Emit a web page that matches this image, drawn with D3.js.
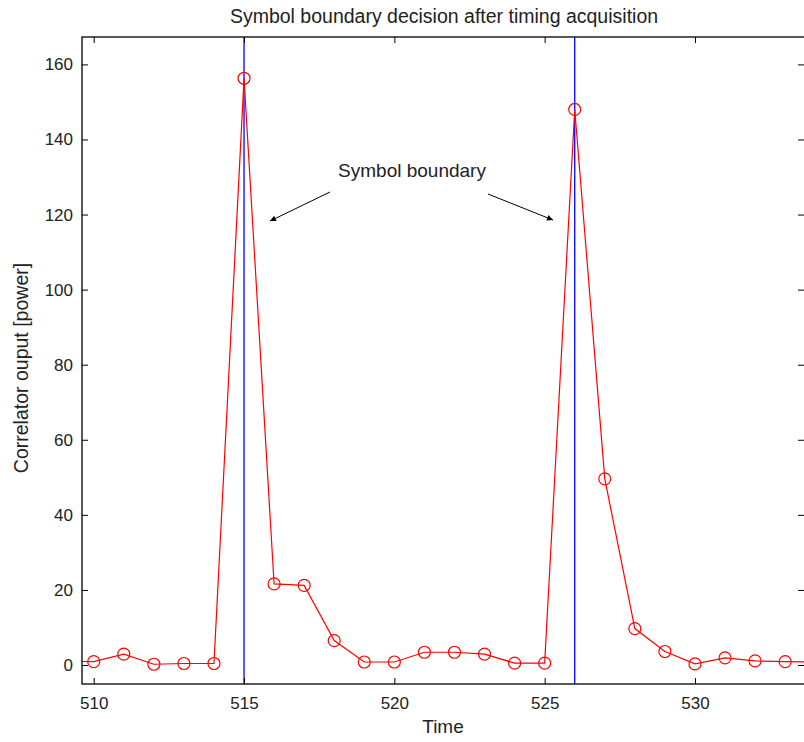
<!DOCTYPE html>
<html><head><meta charset="utf-8">
<script src="https://cdn.jsdelivr.net/npm/d3@7"></script>
<style>body{margin:0;background:#fff;} svg{display:block;}</style>
</head><body>
<svg id="c" width="804" height="742"></svg>
<script>
const times = [509,510,511,512,513,514,515,516,517,518,519,520,521,522,523,524,525,526,527,528,529,530,531,532,533,534];
const power = [1.0,0.9,2.9,0.2,0.4,0.4,156.3,21.6,21.2,6.5,0.8,0.8,3.4,3.4,2.9,0.5,0.5,148.0,49.6,9.7,3.6,0.3,1.9,1.1,0.9,0.8];
const boundaries = [515,526];
const xTicks = [510,515,520,525,530];
const yTicks = [0,20,40,60,80,100,120,140,160];
const titleText = "Symbol boundary decision after timing acquisition";
const xLabel = "Time";
const yLabel = "Correlator ouput [power]";
const annText = "Symbol boundary";

const svg = d3.select("#c");
const L=82,R=805,T=37,B=684;
const x = d3.scaleLinear().domain([509.61,533.66]).range([L,R]);
const y = d3.scaleLinear().domain([-5.06,167.3]).range([B,T]);
const font = "'Liberation Sans', Arial, sans-serif";

svg.append("defs").append("clipPath").attr("id","clip")
  .append("rect").attr("x",L).attr("y",T).attr("width",R-L).attr("height",B-T);
const mk = svg.append("defs").append("marker").attr("id","ah")
  .attr("viewBox","0 0 10 10").attr("refX",10).attr("refY",5)
  .attr("markerWidth",9).attr("markerHeight",6).attr("orient","auto")
  .attr("markerUnits","userSpaceOnUse");
mk.append("path").attr("d","M0,0L10,5L0,10z").attr("fill","#000");

const g = svg.append("g").attr("clip-path","url(#clip)");
g.selectAll("line.b").data(boundaries).enter().append("line")
  .attr("x1",d=>x(d)).attr("x2",d=>x(d)).attr("y1",T).attr("y2",B)
  .attr("stroke","#0000ff").attr("stroke-width",1.3);
const line = d3.line().x((d,i)=>x(times[i])).y(d=>y(d));
g.append("path").datum(power).attr("d",line).attr("fill","none")
  .attr("stroke","#ff0000").attr("stroke-width",1.2);
g.selectAll("circle").data(power).enter().append("circle")
  .attr("cx",(d,i)=>x(times[i])).attr("cy",d=>y(d)).attr("r",6)
  .attr("fill","none").attr("stroke","#ff0000").attr("stroke-width",1.2);

const axc = "#000";
const xb = d3.axisBottom(x).tickValues(xTicks).tickSize(-6).tickPadding(13).tickFormat(d3.format("d"));
const xt = d3.axisTop(x).tickValues(xTicks).tickSize(-6).tickFormat("");
const yl = d3.axisLeft(y).tickValues(yTicks).tickSize(-6).tickPadding(9).tickFormat(d3.format("d"));
const yr = d3.axisRight(y).tickValues(yTicks).tickSize(-6).tickFormat("");
function style(sel){ sel.select(".domain").remove(); sel.selectAll("line").attr("stroke",axc);
  sel.selectAll("text").attr("font-family",font).attr("font-size",17).attr("fill","#222"); }
svg.append("g").attr("transform",`translate(0,${B})`).call(xb).call(style);
svg.append("g").attr("transform",`translate(0,${T})`).call(xt).call(style);
svg.append("g").attr("transform",`translate(${L},0)`).call(yl).call(style);
svg.append("g").attr("transform",`translate(${R-1},0)`).call(yr).call(style);
svg.append("rect").attr("x",L).attr("y",T).attr("width",R-L).attr("height",B-T)
  .attr("fill","none").attr("stroke",axc).attr("stroke-width",1.3);

svg.append("text").attr("x",444).attr("y",23).attr("text-anchor","middle")
  .attr("font-family",font).attr("font-size",19.5).attr("fill","#222").text(titleText);
svg.append("text").attr("x",443).attr("y",733).attr("text-anchor","middle")
  .attr("font-family",font).attr("font-size",19).attr("fill","#222").text(xLabel);
svg.append("text").attr("transform","translate(28,368) rotate(-90)").attr("text-anchor","middle")
  .attr("font-family",font).attr("font-size",19.5).attr("fill","#222").text(yLabel);

svg.append("text").attr("x",412).attr("y",177).attr("text-anchor","middle")
  .attr("font-family",font).attr("font-size",19).attr("fill","#222").text(annText);
svg.append("line").attr("x1",330).attr("y1",192).attr("x2",270).attr("y2",221)
  .attr("stroke","#000").attr("stroke-width",1).attr("marker-end","url(#ah)");
svg.append("line").attr("x1",488).attr("y1",194).attr("x2",553).attr("y2",220)
  .attr("stroke","#000").attr("stroke-width",1).attr("marker-end","url(#ah)");
</script>
</body></html>
